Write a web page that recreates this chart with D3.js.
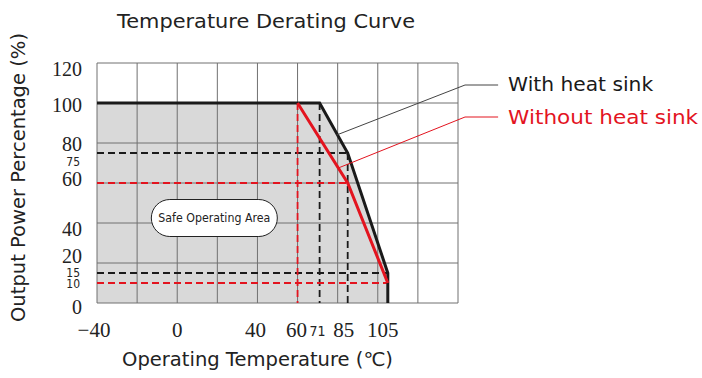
<!DOCTYPE html>
<html><head><meta charset="utf-8">
<script src="https://cdn.jsdelivr.net/npm/d3@7"></script>
<style>
html,body{margin:0;padding:0;background:#fff;}
svg{display:block;}
</style></head>
<body>
<svg id="c" width="702" height="378"></svg>
<script>
// ---- data ----
const gridTemps = [-40, -20, 0, 20, 40, 60, 80, 100, 120, 140];
const gridPowers = [0, 20, 40, 60, 80, 100, 120];
const xTickLabels = [-40, 0, 40, 60, 85, 105];
const xSmallTicks = [71];
const yTickLabels = [0, 20, 40, 60, 80, 100, 120];
const ySmallTicks = [75, 15, 10];
const withSink = [[-40, 100], [71, 100], [85, 75], [105, 15], [105, 0]];
const withoutSink = [[60, 100], [85, 60], [105, 10]];
const blackDashes = [[[-40, 75], [85, 75]], [[71, 100], [71, 0]], [[85, 75], [85, 0]], [[-40, 15], [105, 15]]];
const redDashes = [[[60, 100], [60, 0]], [[-40, 60], [85, 60]], [[-40, 10], [105, 10]]];
const legendNames = ["With heat sink", "Without heat sink"];
const leaderBlack = [[79.5, 84], [143.5, 109], [160, 109]];
const leaderRed = [[80.3, 67.5], [143.5, 93], [160, 93]];

// ---- layout ----
const svg = d3.select("#c");
const x = d3.scaleLinear().domain([-40, 140]).range([97, 458]);
const y = d3.scaleLinear().domain([0, 120]).range([303, 63]);
const line = d3.line().x(d => x(d[0])).y(d => y(d[1]));
const RED = "#e3141f", BLK = "#1a1a1a", GRID = "#707070";
const narrow = "'Liberation Sans Narrow', 'DejaVu Sans Condensed', sans-serif";

// fill
const area = withSink.concat([[-40, 0]]);
svg.append("path").attr("d", line(area) + "Z").attr("fill", "#d9d9d9");

// grid
svg.append("g").selectAll("line").data(gridTemps).join("line")
  .attr("x1", d => x(d)).attr("x2", d => x(d)).attr("y1", y(0)).attr("y2", y(120))
  .attr("stroke", GRID).attr("stroke-width", 1);
svg.append("g").selectAll("line").data(gridPowers).join("line")
  .attr("x1", x(-40)).attr("x2", x(140)).attr("y1", d => y(d)).attr("y2", d => y(d))
  .attr("stroke", GRID).attr("stroke-width", 1);

// dashed guides
svg.append("g").selectAll("path").data(blackDashes).join("path")
  .attr("d", line).attr("fill", "none").attr("stroke", BLK).attr("stroke-width", 1.8).attr("stroke-dasharray", "7,4");
svg.append("g").selectAll("path").data(redDashes).join("path")
  .attr("d", line).attr("fill", "none").attr("stroke", RED).attr("stroke-width", 1.8).attr("stroke-dasharray", "7,4");

// curves
svg.append("path").attr("d", line(withSink)).attr("fill", "none").attr("stroke", BLK).attr("stroke-width", 3).attr("stroke-linejoin", "miter");
svg.append("path").attr("d", line(withoutSink)).attr("fill", "none").attr("stroke", RED).attr("stroke-width", 3);

// leaders
svg.append("path").attr("d", line(leaderBlack)).attr("fill", "none").attr("stroke", "#444").attr("stroke-width", 1);
svg.append("path").attr("d", line(leaderRed)).attr("fill", "none").attr("stroke", RED).attr("stroke-width", 1);

// legend text
const lx = x(160) + 10;
svg.append("text").attr("x", lx).attr("y", y(109) + 6).text(legendNames[0])
  .attr("font-family", "'DejaVu Sans', sans-serif").attr("font-size", 20).attr("fill", BLK)
  .attr("textLength", 145).attr("lengthAdjust", "spacingAndGlyphs");
svg.append("text").attr("x", lx).attr("y", y(93) + 7).text(legendNames[1])
  .attr("font-family", "'DejaVu Sans', sans-serif").attr("font-size", 20).attr("fill", RED)
  .attr("textLength", 190).attr("lengthAdjust", "spacingAndGlyphs");

// safe operating area pill
const pcx = x(18.5), pcy = y(42.5);
svg.append("rect").attr("x", pcx - 63).attr("y", pcy - 18.5).attr("width", 126).attr("height", 37)
  .attr("rx", 18.5).attr("fill", "#fff").attr("stroke", "#222").attr("stroke-width", 1);
svg.append("text").attr("x", pcx).attr("y", pcy + 4).attr("text-anchor", "middle")
  .attr("font-family", "'DejaVu Sans', sans-serif").attr("font-size", 11.5).attr("fill", "#222")
  .attr("textLength", 112).attr("lengthAdjust", "spacingAndGlyphs").text("Safe  Operating Area");

// axes tick labels
const serif = "'Liberation Serif', 'Times New Roman', serif";
const yNudge = {120: 6, 100: 2, 80: 1, 60: -4, 40: 6, 20: -7, 0: 4};
svg.append("g").selectAll("text").data(yTickLabels).join("text")
  .attr("x", 82).attr("y", d => y(d) + 7 + (yNudge[d] || 0)).attr("text-anchor", "end")
  .attr("font-family", serif).attr("font-size", 20).attr("fill", "#222")
  .text(d => d);
const ySmallNudge = {75: 13, 15: 4, 10: 5};
svg.append("g").selectAll("text").data(ySmallTicks).join("text")
  .attr("x", 80).attr("y", d => y(d) + (ySmallNudge[d] || 0)).attr("text-anchor", "end")
  .attr("font-family", narrow).attr("font-size", 12).attr("fill", "#222")
  .text(d => d);
const xNudge = {40: -2, 60: -1, 85: -4, 105: -5, "-40": -3};
svg.append("g").selectAll("text").data(xTickLabels).join("text")
  .attr("x", d => x(d) + (xNudge[d] || 0)).attr("y", 337).attr("text-anchor", "middle")
  .attr("font-family", serif).attr("font-size", 21).attr("fill", "#222")
  .text(d => d < 0 ? "\u2212" + Math.abs(d) : d);
svg.append("g").selectAll("text").data(xSmallTicks).join("text")
  .attr("x", d => x(d) - 2).attr("y", 336).attr("text-anchor", "middle")
  .attr("font-family", narrow).attr("font-size", 14).attr("fill", "#222")
  .text(d => d);

// titles
svg.append("text").attr("x", 117).attr("y", 28).text("Temperature Derating Curve")
  .attr("font-family", "'DejaVu Sans', sans-serif").attr("font-size", 19).attr("fill", "#222")
  .attr("textLength", 298).attr("lengthAdjust", "spacingAndGlyphs");
svg.append("text").attr("x", 122).attr("y", 366).text("Operating Temperature (\u2103)")
  .attr("font-family", "'DejaVu Sans', sans-serif").attr("font-size", 19).attr("fill", "#222")
  .attr("textLength", 271).attr("lengthAdjust", "spacingAndGlyphs");
svg.append("text").attr("transform", "translate(25,322) rotate(-90)").text("Output Power Percentage (%)")
  .attr("font-family", "'DejaVu Sans', sans-serif").attr("font-size", 19).attr("fill", "#222")
  .attr("textLength", 289).attr("lengthAdjust", "spacingAndGlyphs");
</script>
</body></html>
